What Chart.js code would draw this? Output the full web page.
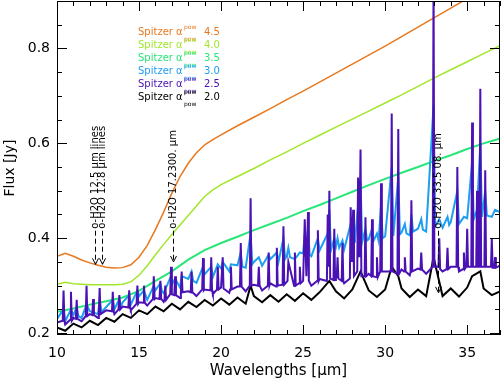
<!DOCTYPE html>
<html>
<head>
<meta charset="utf-8">
<script src="https://cdn.jsdelivr.net/npm/chart.js@4.4.0/dist/chart.umd.min.js"></script>
<style>
  html, body { margin: 0; padding: 0; background: #fff; }
  #wrap { width: 503px; height: 383px; }
</style>
</head>
<body>
<div id="wrap"><canvas id="spec" width="503" height="383"></canvas></div>
<script>
// model index labels, top to bottom as in the legend
const indexLabels = ['4.5', '4.0', '3.5', '3.0', '2.5', '2.0'];
const xTicks = [10, 15, 20, 25, 30, 35];
const yTicks = [0.2, 0.4, 0.6, 0.8];

// smooth models (4.5 and 4.0)
const waveSmooth = [10, 10.5, 11, 11.5, 12, 12.5, 13, 13.5, 14, 14.5, 15, 15.5, 16, 16.5, 17, 17.5, 18, 18.5, 19, 19.5, 20,
                    21, 22, 23, 24, 25, 26, 27, 28, 29, 30, 31, 32, 33, 34, 35, 36, 37];
const flux45 = [0.362, 0.368, 0.362, 0.354, 0.348, 0.343, 0.339, 0.337, 0.338, 0.344, 0.36, 0.385, 0.418, 0.455, 0.495, 0.53, 0.558, 0.58, 0.597, 0.608, 0.618,
                0.637, 0.655, 0.673, 0.692, 0.71, 0.729, 0.748, 0.767, 0.786, 0.805, 0.825, 0.845, 0.865, 0.885, 0.905, 0.925, 0.945];
const flux40 = [0.303, 0.307, 0.304, 0.303, 0.302, 0.302, 0.302, 0.302, 0.303, 0.308, 0.322, 0.342, 0.365, 0.387, 0.408, 0.428, 0.448, 0.468, 0.488, 0.502, 0.513,
                0.53, 0.547, 0.565, 0.582, 0.6, 0.617, 0.634, 0.651, 0.668, 0.685, 0.702, 0.72, 0.738, 0.755, 0.772, 0.789, 0.806];

// 3.5
const wave35 = [10, 11, 12, 13, 14, 15, 16, 17, 18, 19, 20, 21, 22, 23, 24, 25, 26, 27, 28, 29, 30, 31, 32, 33, 34, 35, 36, 37];
const flux35 = [0.245, 0.252, 0.26, 0.267, 0.275, 0.289, 0.31, 0.33, 0.355, 0.375, 0.39, 0.403, 0.417, 0.43, 0.443, 0.457, 0.47, 0.484,
                0.498, 0.512, 0.525, 0.538, 0.55, 0.563, 0.575, 0.588, 0.6, 0.61];

// 3.0
const wave30 = [10, 10.4, 10.5, 10.85,
                11, 11.2, 11.3, 11.5, 11.8,
                12, 12.5, 12.6, 12.7,
                13, 13.4, 13.5, 13.8, 13.9,
                14, 14.4, 14.5, 14.9,
                15, 15.3, 15.5, 15.9,
                16, 16.3, 16.4, 16.5, 16.95,
                17, 17.2, 17.5, 17.6,
                18, 18.2, 18.3, 18.5, 18.9,
                19, 19.4, 19.5, 19.8,
                20, 20.1, 20.5, 20.6,
                21, 21.2, 21.3, 21.5, 21.8, 21.9,
                22, 22.3, 22.5, 22.9,
                23, 23.4, 23.5, 23.8, 23.9,
                24, 24.1, 24.2, 24.5, 24.8,
                25, 25.1, 25.2, 25.3, 25.4, 25.5, 25.9,
                26, 26.5, 26.6, 26.7, 26.9,
                27, 27.1, 27.2, 27.4, 27.5, 27.9,
                28, 28.05, 28.15, 28.35, 28.5, 28.6, 28.8, 28.9,
                29, 29.2, 29.3, 29.5, 29.6, 29.75, 29.85,
                30, 30.4, 30.5, 30.8, 30.9,
                31, 31.2, 31.3, 31.5, 31.6, 31.7,
                32, 32.2, 32.3, 32.5, 32.95,
                33.05, 33.3, 33.5, 33.8, 33.9,
                34, 34.4, 34.5, 34.8,
                35, 35.3, 35.4, 35.6, 35.8, 35.9,
                36.1, 36.2, 36.5, 36.7, 37];
const flux30 = [0.23, 0.25, 0.225, 0.25,
                0.238, 0.255, 0.236, 0.232, 0.26,
                0.246, 0.24, 0.27, 0.244,
                0.255, 0.27, 0.25, 0.272, 0.256,
                0.265, 0.28, 0.26, 0.29,
                0.278, 0.29, 0.27, 0.30,
                0.29, 0.305, 0.288, 0.284, 0.32,
                0.302, 0.315, 0.296, 0.32,
                0.314, 0.33, 0.31, 0.306, 0.34,
                0.324, 0.34, 0.318, 0.345,
                0.336, 0.35, 0.33, 0.345,
                0.343, 0.37, 0.34, 0.338, 0.41, 0.345,
                0.35, 0.36, 0.342, 0.365,
                0.356, 0.37, 0.35, 0.40, 0.356,
                0.362, 0.38, 0.36, 0.356, 0.37,
                0.368, 0.41, 0.37, 0.42, 0.365, 0.362, 0.40,
                0.374, 0.41, 0.46, 0.375, 0.40,
                0.382, 0.40, 0.38, 0.395, 0.376, 0.43,
                0.39, 0.43, 0.39, 0.47, 0.52, 0.392, 0.42, 0.395,
                0.398, 0.42, 0.395, 0.41, 0.395, 0.47, 0.40,
                0.404, 0.55, 0.405, 0.53, 0.408,
                0.412, 0.43, 0.41, 0.406, 0.45, 0.414,
                0.42, 0.44, 0.418, 0.414, 0.68,
                0.425, 0.44, 0.422, 0.445, 0.428,
                0.434, 0.50, 0.43, 0.445,
                0.442, 0.56, 0.44, 0.46, 0.60, 0.445,
                0.50, 0.448, 0.445, 0.46, 0.455];

// 2.5 (emission lines show strongest here)
const wave25 = [10, 10.35, 10.4, 10.45, 10.5, 10.8, 10.85, 10.9,
                11, 11.15, 11.2, 11.25, 11.5, 11.75, 11.8, 11.85,
                12, 12.15, 12.2, 12.25, 12.5, 12.55, 12.6, 12.65,
                13, 13.35, 13.4, 13.45, 13.5, 13.75, 13.8, 13.85,
                14, 14.35, 14.4, 14.45, 14.5, 14.85, 14.9, 14.95,
                15, 15.25, 15.3, 15.35, 15.5, 15.85, 15.9, 15.95,
                16, 16.25, 16.3, 16.35, 16.5, 16.55, 16.6, 16.65, 16.9, 16.95,
                17, 17.15, 17.2, 17.25, 17.5, 17.55, 17.6, 17.65,
                18, 18.15, 18.2, 18.25, 18.5, 18.85, 18.9, 18.95,
                19, 19.35, 19.4, 19.45, 19.5, 19.75, 19.8, 19.85,
                20, 20.05, 20.1, 20.15, 20.5, 20.55, 20.6, 20.65,
                21, 21.15, 21.2, 21.25, 21.5, 21.75, 21.8, 21.85,
                22, 22.25, 22.3, 22.35, 22.5, 22.85, 22.9, 22.95,
                23, 23.35, 23.4, 23.45, 23.75, 23.8, 23.85,
                24, 24.05, 24.1, 24.45, 24.5, 24.55, 24.75, 24.8, 24.85,
                25, 25.05, 25.1, 25.2, 25.3, 25.35, 25.5, 25.85, 25.9, 25.95,
                26, 26.45, 26.5, 26.55, 26.6, 26.65, 26.85, 26.9, 26.95,
                27, 27.05, 27.1, 27.15, 27.35, 27.4, 27.45, 27.5, 27.85, 27.9, 27.97,
                28.05, 28.1, 28.3, 28.35, 28.42, 28.5, 28.55, 28.75, 28.8, 28.85,
                29, 29.15, 29.2, 29.25, 29.45, 29.5, 29.55, 29.7, 29.75, 29.8,
                30, 30.35, 30.4, 30.45, 30.75, 30.8, 30.85,
                31, 31.15, 31.2, 31.25, 31.5, 31.55, 31.6, 31.65,
                32, 32.15, 32.2, 32.25, 32.5, 32.9, 32.95,
                33, 33.25, 33.3, 33.35, 33.5, 33.75, 33.8, 33.85,
                34, 34.35, 34.4, 34.45, 34.5, 34.75, 34.8, 34.85, 34.95,
                35, 35.05, 35.25, 35.3, 35.35, 35.55, 35.6, 35.65, 35.75, 35.8, 35.85,
                36.05, 36.1, 36.15, 36.45, 36.5, 36.55, 36.65, 36.7, 36.75, 37];
const flux25 = [0.222, 0.226, 0.29, 0.226, 0.218, 0.228, 0.287, 0.226,
                0.232, 0.23, 0.27, 0.23, 0.225, 0.236, 0.30, 0.236,
                0.240, 0.238, 0.272, 0.238, 0.232, 0.24, 0.295, 0.24,
                0.248, 0.246, 0.287, 0.246, 0.240, 0.25, 0.28, 0.25,
                0.256, 0.254, 0.29, 0.254, 0.248, 0.262, 0.30, 0.262,
                0.265, 0.264, 0.30, 0.264, 0.258, 0.272, 0.32, 0.272,
                0.274, 0.272, 0.31, 0.272, 0.266, 0.27, 0.30, 0.27, 0.282, 0.34,
                0.282, 0.28, 0.32, 0.28, 0.274, 0.286, 0.33, 0.286,
                0.288, 0.286, 0.33, 0.286, 0.278, 0.292, 0.358, 0.29,
                0.292, 0.29, 0.36, 0.29, 0.282, 0.292, 0.34, 0.292,
                0.296, 0.296, 0.36, 0.294, 0.285, 0.292, 0.34, 0.292,
                0.298, 0.298, 0.39, 0.298, 0.288, 0.30, 0.484, 0.30,
                0.302, 0.30, 0.34, 0.30, 0.29, 0.30, 0.37, 0.30,
                0.305, 0.298, 0.38, 0.30, 0.302, 0.425, 0.302,
                0.308, 0.31, 0.35, 0.30, 0.37, 0.30, 0.305, 0.34, 0.305,
                0.31, 0.31, 0.44, 0.32, 0.455, 0.31, 0.30, 0.31, 0.417, 0.31,
                0.314, 0.31, 0.45, 0.34, 0.50, 0.315, 0.312, 0.42, 0.312,
                0.318, 0.318, 0.36, 0.315, 0.31, 0.39, 0.31, 0.305, 0.315, 0.465, 0.35,
                0.46, 0.32, 0.33, 0.528, 0.36, 0.587, 0.32, 0.32, 0.444, 0.32,
                0.325, 0.32, 0.44, 0.32, 0.318, 0.36, 0.318, 0.33, 0.516, 0.33,
                0.33, 0.33, 0.663, 0.33, 0.325, 0.63, 0.325,
                0.334, 0.33, 0.36, 0.33, 0.322, 0.33, 0.48, 0.33,
                0.336, 0.334, 0.37, 0.334, 0.325, 0.34, 0.95,
                0.34, 0.34, 0.40, 0.335, 0.33, 0.335, 0.38, 0.335,
                0.34, 0.34, 0.55, 0.34, 0.33, 0.335, 0.37, 0.335, 0.34,
                0.42, 0.34, 0.34, 0.644, 0.34, 0.34, 0.50, 0.34, 0.34, 0.715, 0.34,
                0.34, 0.543, 0.34, 0.34, 0.40, 0.338, 0.338, 0.36, 0.338, 0.342];

// 2.0
const wave20 = [10, 10.5, 11, 11.5, 12, 12.5, 13, 13.5, 14, 14.5, 15, 15.5, 16, 16.5, 17, 17.5, 18, 18.5, 19, 19.5,
                20, 20.5, 21, 21.5, 21.8, 22, 22.5, 23, 23.5, 24, 24.5, 25, 25.5, 26, 26.6, 27, 27.5, 28, 28.5, 29,
                29.5, 30, 30.4, 30.8, 31, 31.5, 32, 32.5, 32.95, 33.5, 34, 34.5, 35, 35.3, 35.8, 36, 36.5, 37];
const flux20 = [0.212, 0.205, 0.220, 0.212, 0.226, 0.217, 0.232, 0.224, 0.240, 0.232, 0.248, 0.240, 0.256, 0.246, 0.262, 0.250, 0.266, 0.255, 0.270, 0.258,
                0.273, 0.260, 0.275, 0.262, 0.30, 0.278, 0.265, 0.280, 0.266, 0.282, 0.268, 0.284, 0.270, 0.286, 0.31, 0.288, 0.273, 0.292, 0.33, 0.290,
                0.276, 0.292, 0.34, 0.32, 0.294, 0.276, 0.292, 0.278, 0.36, 0.278, 0.294, 0.277, 0.296, 0.32, 0.33, 0.294, 0.280, 0.288];

// water line marks
const lineWave = [12.3, 12.75, 17.05, 33.2];
const lineText = ['o-H2O 12.5 \u03bcm lines', 'o-H2O 12.8 \u03bcm lines', 'o-H2O 17.2300. \u03bcm', 'o-H2O 33.5 08. \u03bcm'];
const lineTip = [0.345, 0.345, 0.35, 0.285];

const colors = ['#e8781e', '#a2e62c', '#28e678', '#1e9ef0', '#4a12b4', '#000000'];

function pts(w, f) {
    return w.map((x, i) => ({ x: x, y: f[i] }));
}

Chart.defaults.font.family = 'DejaVu Sans';
Chart.defaults.color = '#000';

const frame = {
    id: 'frame',
    afterDatasetsDraw(chart) {
        const ctx = chart.ctx;
        const xs = chart.scales.x, ys = chart.scales.y;
        const a = chart.chartArea;
        ctx.save();
        ctx.strokeStyle = '#000';
        ctx.lineWidth = 1;
        ctx.strokeRect(a.left + 0.5, a.top + 0.5, a.right - a.left - 1, a.bottom - a.top - 1);
        ctx.beginPath();
        for (let v = 10; v <= 37; v++) {
            const px = Math.round(xs.getPixelForValue(v)) + 0.5;
            const len = v % 5 === 0 ? 10 : 5;
            ctx.moveTo(px, a.bottom); ctx.lineTo(px, a.bottom - len);
            ctx.moveTo(px, a.top); ctx.lineTo(px, a.top + len);
        }
        for (let k = 4; k <= 17; k++) {
            const py = Math.round(ys.getPixelForValue(k * 0.05)) + 0.5;
            const len = k % 4 === 0 ? 10 : 5;
            ctx.moveTo(a.left, py); ctx.lineTo(a.left + len, py);
            ctx.moveTo(a.right, py); ctx.lineTo(a.right - len, py);
        }
        ctx.stroke();

        // water line marks: rotated text, dashed leader, arrow head
        ctx.font = '10px DejaVu Sans';
        ctx.fillStyle = '#000';
        lineWave.forEach((w, i) => {
            const px = Math.round(xs.getPixelForValue(w)) + 0.5;
            const yText = ys.getPixelForValue(0.42);
            const yTip = ys.getPixelForValue(lineTip[i]);
            ctx.save();
            ctx.translate(px + 4, yText);
            ctx.rotate(-Math.PI / 2);
            ctx.textAlign = 'left';
            ctx.textBaseline = 'middle';
            ctx.fillText(lineText[i], 0, -4);
            ctx.restore();
            ctx.beginPath();
            ctx.setLineDash([5, 3]);
            ctx.moveTo(px, yText + 2);
            ctx.lineTo(px, yTip);
            ctx.stroke();
            ctx.setLineDash([]);
            ctx.beginPath();
            ctx.moveTo(px - 3, yTip - 6);
            ctx.lineTo(px, yTip);
            ctx.lineTo(px + 3, yTip - 6);
            ctx.stroke();
        });

        // legend
        const lx = 138, ly = 32, step = 13;
        indexLabels.forEach((lab, i) => {
            const y = ly + i * step;
            ctx.fillStyle = colors[i];
            ctx.textAlign = 'left';
            ctx.textBaseline = 'middle';
            ctx.font = '10px DejaVu Sans';
            ctx.fillText('Spitzer \u03b1', lx, y);
            ctx.font = '6px DejaVu Sans';
            ctx.fillText('pow', lx + 46, y - 5);
            ctx.fillText('pow', lx + 46, y + 7);
            ctx.font = '10px DejaVu Sans';
            ctx.fillText(lab, lx + 66, y);
        });
        ctx.restore();
    }
};

function noPad(s) {
    s.paddingTop = 0; s.paddingBottom = 0; s.paddingLeft = 0; s.paddingRight = 0;
}

const datasets = [
    { label: 'Spitzer 2.5', data: pts(wave25, flux25), borderColor: colors[4], borderWidth: 2 },
    { label: 'Spitzer 2.0', data: pts(wave20, flux20), borderColor: colors[5], borderWidth: 2 },
    { label: 'Spitzer 3.0', data: pts(wave30, flux30), borderColor: colors[3], borderWidth: 2 },
    { label: 'Spitzer 3.5', data: pts(wave35, flux35), borderColor: colors[2], borderWidth: 2 },
    { label: 'Spitzer 4.0', data: pts(waveSmooth, flux40), borderColor: colors[1], borderWidth: 1.5 },
    { label: 'Spitzer 4.5', data: pts(waveSmooth, flux45), borderColor: colors[0], borderWidth: 1.5 }
].map(d => Object.assign(d, { showLine: true, pointRadius: 0, tension: 0, fill: false }));

new Chart(document.getElementById('spec'), {
    type: 'scatter',
    data: { datasets: datasets },
    options: {
        responsive: false,
        animation: false,
        layout: { padding: { top: 1, right: 3, left: 0, bottom: 0 } },
        plugins: { legend: { display: false }, tooltip: { enabled: false } },
        scales: {
            x: {
                type: 'linear', min: 10, max: 37,
                afterBuildTicks: s => { s.ticks = xTicks.map(v => ({ value: v })); },
                afterFit: s => { s.height = 48; noPad(s); },
                grid: { display: false, drawTicks: false, tickLength: 0 },
                border: { display: false },
                ticks: { font: { size: 14 }, padding: 10, maxRotation: 0, callback: v => String(v) },
                title: { display: true, text: 'Wavelengths [\u03bcm]', font: { size: 15 }, padding: { top: 0, bottom: 3 } }
            },
            y: {
                type: 'linear', min: 0.196, max: 0.9,
                afterBuildTicks: s => { s.ticks = yTicks.map(v => ({ value: v })); },
                afterFit: s => { s.width = 57; noPad(s); },
                grid: { display: false, drawTicks: false, tickLength: 0 },
                border: { display: false },
                ticks: { font: { size: 14 }, padding: 7, callback: v => v.toFixed(1) },
                title: { display: true, text: 'Flux [Jy]', font: { size: 14 }, padding: { top: 2, bottom: 0 } }
            }
        }
    },
    plugins: [frame]
});
</script>
</body>
</html>
